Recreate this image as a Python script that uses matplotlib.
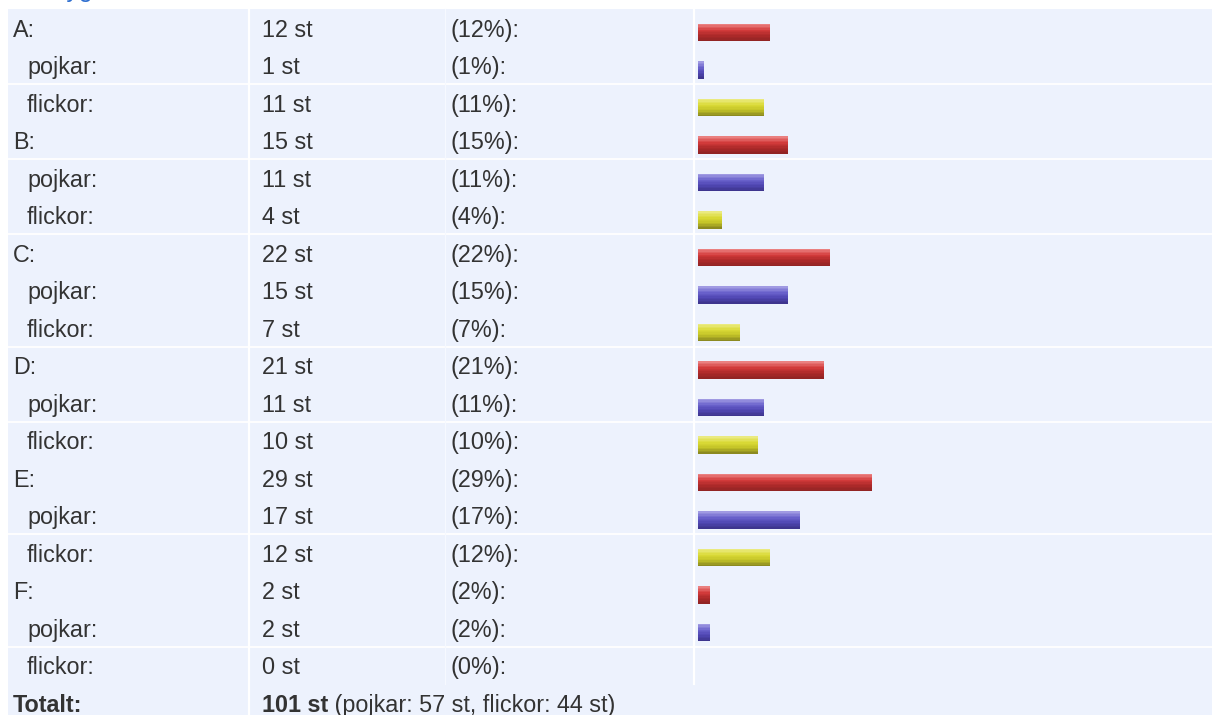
import numpy as np
import matplotlib
matplotlib.use("Agg")
import matplotlib.pyplot as plt
from matplotlib.patches import Rectangle
from matplotlib.colors import LinearSegmentedColormap

# values
GROUPS = ["A", "B", "C", "D", "E", "F"]
TOTAL_COUNT = [12, 15, 22, 21, 29, 2]
TOTAL_PCT = [12, 15, 22, 21, 29, 2]
BOYS_COUNT = [1, 11, 15, 11, 17, 2]
BOYS_PCT = [1, 11, 15, 11, 17, 2]
GIRLS_COUNT = [11, 4, 7, 10, 12, 0]
GIRLS_PCT = [11, 4, 7, 10, 12, 0]
SUM_ALL, SUM_BOYS, SUM_GIRLS = 101, 57, 44

TITLE = "Betyg"
BOYS_LABEL = "pojkar"
GIRLS_LABEL = "flickor"

W, H = 1212, 715
TOP = 9
ROW_H = 37.5
BG = "#edf2fd"
TXT = "#333333"
FS = 16.8

GRAD = {
    "tot": ["#ea8080", "#d43c3c", "#b02a2a", "#922424"],
    "boy": ["#a09ae2", "#6a62cc", "#5148b4", "#3e358e"],
    "girl": ["#eaea80", "#dada36", "#c4c428", "#8c8a20"],
}

rows = []
for i, g in enumerate(GROUPS):
    rows.append((f"{g}:", TOTAL_COUNT[i], TOTAL_PCT[i], "tot", 13))
    rows.append((f"{BOYS_LABEL}:", BOYS_COUNT[i], BOYS_PCT[i], "boy", 27))
    rows.append((f"{GIRLS_LABEL}:", GIRLS_COUNT[i], GIRLS_PCT[i], "girl", 27))
n_rows = len(rows)

plt.rcParams["font.family"] = ["Liberation Sans", "DejaVu Sans"]
fig = plt.figure(figsize=(W / 100, H / 100), dpi=100)
ax = fig.add_axes([0, 0, 1, 1])
ax.set_xlim(0, W)
ax.set_ylim(H, 0)
ax.axis("off")

# table background
ax.add_patch(Rectangle((8, TOP), W - 8, H - TOP, facecolor=BG, edgecolor="none"))

# separators that show in the reference
for k in [2, 4, 6, 9, 11, 14, 17]:
    y = TOP + k * ROW_H
    ax.plot([8, W], [y, y], color="white", lw=1.3)
bottom_bars = TOP + n_rows * ROW_H
ax.plot([249.3, 249.3], [TOP, H], color="white", lw=1.6)
ax.plot([693.7, 693.7], [TOP, bottom_bars], color="white", lw=1.6)
ax.plot([445, 445], [TOP, bottom_bars], color="#f6f9ff", lw=0.8)

# title, cut off above the table as in the reference
ax.text(29, -2.5, TITLE, color="#2f6fd0", fontsize=18, ha="left", va="baseline")

base_off = 9.0  # baseline below row centre
for k, (lab, cnt, pct, kind, x0) in enumerate(rows):
    yb = TOP + (k + 0.5) * ROW_H + base_off
    ax.text(x0, yb, lab, color=TXT, fontsize=FS, ha="left", va="baseline")
    ax.text(262, yb, f"{cnt} st", color=TXT, fontsize=FS, ha="left", va="baseline")
    ax.text(451, yb, f"({pct}%):", color=TXT, fontsize=FS, ha="left", va="baseline")

# total row
yb = TOP + (n_rows + 0.5) * ROW_H + base_off
ax.text(13, yb, "Totalt:", color=TXT, fontsize=FS, ha="left", va="baseline",
        fontweight="bold")
t_bold = ax.text(262, yb, f"{SUM_ALL} st", color=TXT, fontsize=FS, ha="left",
                 va="baseline", fontweight="bold")
ax.annotate(f" ({BOYS_LABEL}: {SUM_BOYS} st, {GIRLS_LABEL}: {SUM_GIRLS} st)",
            xy=(1, 0), xycoords=t_bold, ha="left", va="bottom",
            color=TXT, fontsize=FS)

# bar column: x in percent, y in row units
px_per_pct = 6.0
bx0, bx1 = 694, W
bax = fig.add_axes([bx0 / W, 1 - bottom_bars / H, (bx1 - bx0) / W, (bottom_bars - TOP) / H])
bax.set_xlim(-(698 - bx0) / px_per_pct, (bx1 - 698) / px_per_pct)
bax.set_ylim(n_rows, 0)
bax.axis("off")
bax.patch.set_alpha(0)

bar_h = 17 / ROW_H
offset = 4.75 / ROW_H
n_strips = 12
for k, (lab, cnt, pct, kind, x0) in enumerate(rows):
    if pct == 0:
        continue
    cmap = LinearSegmentedColormap.from_list(kind, GRAD[kind])
    top = k + 0.5 + offset - bar_h / 2
    sh = bar_h / n_strips
    for s in range(n_strips):
        bax.barh(top + (s + 0.5) * sh, pct, height=sh * 1.02, left=0,
                 color=cmap(s / (n_strips - 1)), edgecolor="none")

fig.savefig("out.png", dpi=100)
